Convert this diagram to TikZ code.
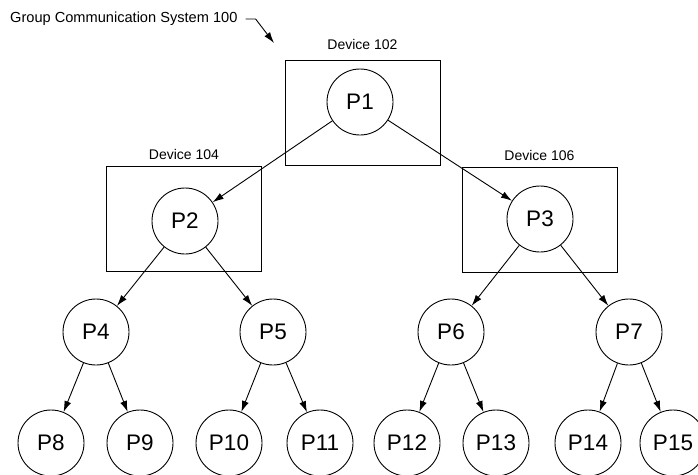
\documentclass[tikz,border=0pt]{standalone}
\usepackage{fontspec}
\setmainfont{Liberation Sans}
\usetikzlibrary{arrows.meta, positioning}

\begin{document}
\begin{tikzpicture}[
    x=1pt, y=-1pt,
    proc/.style={circle, draw, line width=0.9pt, minimum size=66pt, inner sep=0pt,
                 font=\fontsize{22.5}{24}\selectfont},
    device/.style={rectangle, draw, line width=1pt, minimum width=155pt,
                   minimum height=105pt, inner sep=0pt},
    devlabel/.style={font=\fontsize{14}{16}\selectfont, inner sep=1pt},
    link/.style={-{Latex[length=11pt,width=7pt]}, line width=0.9pt}
]
    \useasboundingbox (0,0) rectangle (698,474);

    \node[devlabel, anchor=west, font=\fontsize{14.6}{16}\selectfont] (title) at (9,19)
        {Group Communication System 100};
    \coordinate (titletip) at (274,43);
    \draw[link] ([xshift=7pt]title.east) -- ++(10,0) -- (titletip);

    \node[device] (dev102) at (362.5,113) {};
    \node[device] (dev104) at (184,219) {};
    \node[device] (dev106) at (539.5,219.5) {};
    \node[devlabel, above=9pt of dev102] (lab102) {Device 102};
    \node[devlabel, above=5pt of dev104] (lab104) {Device 104};
    \node[devlabel, above=5pt of dev106] (lab106) {Device 106};

    \node[proc] (p1) at (360,102) {P1};
    \node[proc] (p2) at (185,221) {P2};
    \node[proc] (p3) at (540,219) {P3};
    \node[proc] (p4) at (96,332) {P4};
    \node[proc] (p5) at (273,332) {P5};
    \node[proc] (p6) at (451,332) {P6};
    \node[proc] (p7) at (629,332) {P7};
    \node[proc] (p8) at (51,443) {P8};
    \node[proc] (p9) at (140,443) {P9};
    \node[proc] (p10) at (229,443) {P10};
    \node[proc] (p11) at (320,443) {P11};
    \node[proc] (p12) at (407,443) {P12};
    \node[proc] (p13) at (496,443) {P13};
    \node[proc] (p14) at (588,443) {P14};
    \node[proc] (p15) at (673,443) {P15};

    \draw[link] (p1) -- (p2);
    \draw[link] (p1) -- (p3);
    \draw[link] (p2) -- (p4);
    \draw[link] (p2) -- (p5);
    \draw[link] (p3) -- (p6);
    \draw[link] (p3) -- (p7);
    \draw[link] (p4) -- (p8);
    \draw[link] (p4) -- (p9);
    \draw[link] (p5) -- (p10);
    \draw[link] (p5) -- (p11);
    \draw[link] (p6) -- (p12);
    \draw[link] (p6) -- (p13);
    \draw[link] (p7) -- (p14);
    \draw[link] (p7) -- (p15);
\end{tikzpicture}
\end{document}
